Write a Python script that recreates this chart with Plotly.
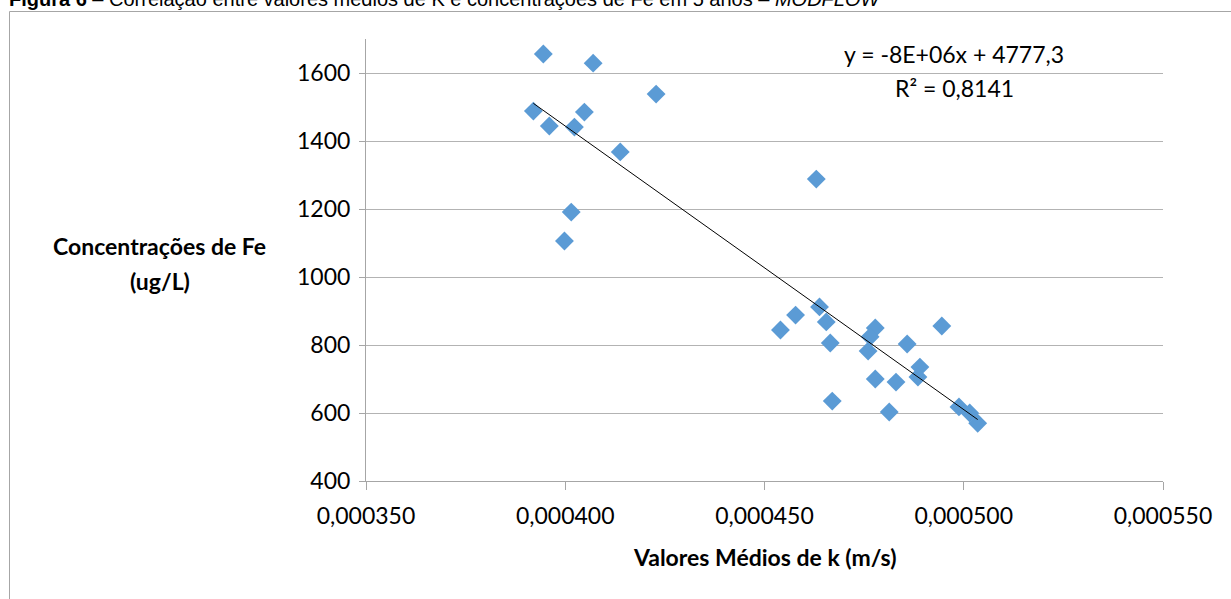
import numpy as np
import plotly.graph_objects as go

# Valores médios de k (m/s) e concentrações de Fe (ug/L)
k_medio = [0.0003945, 0.0004070, 0.0004228, 0.0003920, 0.0004048, 0.0003960,
           0.0004023, 0.0004138, 0.0004630, 0.0004015, 0.0003998, 0.0004638,
           0.0004578, 0.0004540, 0.0004655, 0.0004665, 0.0004778, 0.0004765,
           0.0004760, 0.0004858, 0.0004945, 0.0004890, 0.0004885, 0.0004778,
           0.0004830, 0.0004670, 0.0004813, 0.0004988, 0.0005015, 0.0005035]
fe_conc = [1656, 1629, 1538, 1488, 1485, 1444,
           1441, 1368, 1288, 1191, 1106, 912,
           888, 844, 868, 806, 850, 824,
           782, 803, 856, 735, 706, 700,
           691, 635, 603, 618, 600, 570]

x_ticks = [0.000350, 0.000400, 0.000450, 0.000500, 0.000550]
x_tick_labels = ["0,000350", "0,000400", "0,000450", "0,000500", "0,000550"]
y_ticks = [400, 600, 800, 1000, 1200, 1400, 1600]

eq_text = "y = -8E+06x + 4777,3"
r2_text = "R² = 0,8141"
title_text = "<b>Figura 6</b> – Correlação entre valores médios de K e concentrações de Fe em 5 anos – <i>MODFLOW</i>"
x_title = "<b>Valores Médios de k (m/s)</b>"
y_title_1 = "<b>Concentrações de Fe</b>"
y_title_2 = "<b>(ug/L)</b>"

# linear trend line (least squares) from the data
slope, intercept = np.polyfit(k_medio, fe_conc, 1)
tx = np.array([min(k_medio), max(k_medio)])
ty = slope * tx + intercept

W, H = 1231, 599
L, R, T, B = 366, 68, 39, 118
PW, PH = W - L - R, H - T - B

def px(xp):
    return (xp - L) / PW

def py(yp):
    return (H - B - yp) / PH

FONT = "Lato"
FS = 23

fig = go.Figure()
fig.add_trace(go.Scatter(
    x=k_medio, y=fe_conc, mode="markers",
    marker=dict(symbol="diamond", size=14.5, color="#5B9BD5", line=dict(width=0)),
    showlegend=False, hoverinfo="skip"))
fig.add_trace(go.Scatter(
    x=tx, y=ty, mode="lines", line=dict(color="black", width=1),
    showlegend=False, hoverinfo="skip"))

fig.update_layout(
    width=W, height=H,
    margin=dict(l=L, r=R, t=T, b=B, pad=0),
    paper_bgcolor="white", plot_bgcolor="white",
    font=dict(family=FONT, size=FS, color="black"),
    xaxis=dict(range=[0.000350, 0.000550], tickvals=x_ticks, ticktext=x_tick_labels,
               showgrid=False, zeroline=False, showline=True, linecolor="#a6a6a6",
               linewidth=1, ticks="outside", ticklen=8, tickcolor="#a6a6a6",
               tickfont=dict(family=FONT, size=FS, color="black"), ticklabelstandoff=6),
    yaxis=dict(range=[400, 1700], tickvals=y_ticks,
               showgrid=True, gridcolor="#b3b3b3", gridwidth=1, zeroline=False,
               showline=True, linecolor="#a6a6a6", linewidth=1,
               ticks="outside", ticklen=6, tickcolor="#a6a6a6",
               tickfont=dict(family=FONT, size=FS, color="black"), ticklabelstandoff=4),
)

# outer frame of the chart
fig.add_shape(type="rect", xref="paper", yref="paper",
              x0=px(9.5), x1=px(1260), y0=py(640), y1=py(11.5),
              line=dict(color="#a6a6a6", width=1), fillcolor="rgba(0,0,0,0)", layer="below")

ann = [
    dict(text=title_text, x=px(8), y=py(11), xanchor="left", yanchor="bottom",
         font=dict(family="Liberation Sans", size=20, color="black")),
    dict(text=eq_text, x=px(954), y=py(54), xanchor="center", yanchor="middle",
         font=dict(family=FONT, size=FS, color="black")),
    dict(text=r2_text, x=px(954), y=py(88), xanchor="center", yanchor="middle",
         font=dict(family=FONT, size=FS, color="black")),
    dict(text=x_title, x=px(764.5), y=py(557), xanchor="center", yanchor="middle",
         font=dict(family=FONT, size=FS, color="black")),
    dict(text=y_title_1, x=px(160), y=py(246), xanchor="center", yanchor="middle",
         font=dict(family=FONT, size=FS, color="black")),
    dict(text=y_title_2, x=px(160), y=py(281), xanchor="center", yanchor="middle",
         font=dict(family=FONT, size=FS, color="black")),
]
for a in ann:
    fig.add_annotation(xref="paper", yref="paper", showarrow=False, borderpad=0, **a)

fig.write_html("out.html")
